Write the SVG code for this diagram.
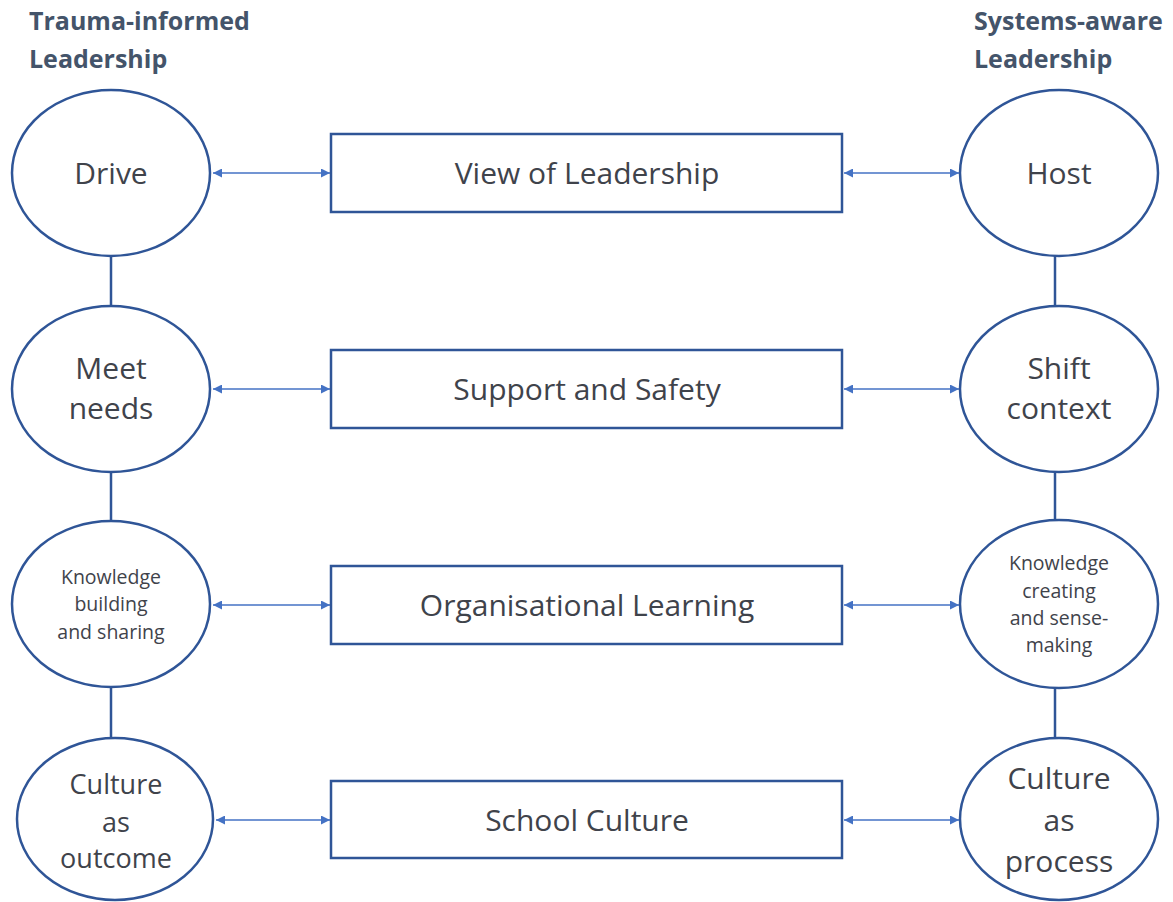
<svg xmlns="http://www.w3.org/2000/svg" width="1173" height="902" viewBox="0 0 1173 902">
<style>
.el{fill:#fff;stroke:#2F5597;stroke-width:2.5}
.bx{fill:#fff;stroke:#2F5597;stroke-width:2.5}
.ln{stroke:#2F5597;stroke-width:2.5;fill:none}
.ar{stroke:#4472C4;stroke-width:1.5;fill:none;marker-start:url(#ah);marker-end:url(#ah)}
.t{font-family:"Open Sans","Liberation Sans",sans-serif;fill:#3F434B;text-anchor:middle}
.h{font-family:"Open Sans","Liberation Sans",sans-serif;font-weight:bold;fill:#44546A;font-size:25px}
</style>
<defs>
<marker id="ah" viewBox="0 0 10 10" refX="10" refY="5" markerWidth="9" markerHeight="9" markerUnits="userSpaceOnUse" orient="auto-start-reverse">
<path d="M0,0 L10,5 L0,10 z" fill="#4472C4"/>
</marker>
</defs>
<rect width="1173" height="902" fill="#fff"/>
<g id="headers">
<text class="h" x="29" y="30">Trauma-informed</text>
<text class="h" x="29" y="68">Leadership</text>
<text class="h" x="974" y="30">Systems-aware</text>
<text class="h" x="974" y="68">Leadership</text>
</g>
<g id="connectors">
<line class="ln" x1="111" y1="256" x2="111" y2="306"/>
<line class="ln" x1="111" y1="472" x2="111" y2="521"/>
<line class="ln" x1="111" y1="688" x2="111" y2="738"/>
<line class="ln" x1="1055" y1="256" x2="1055" y2="305"/>
<line class="ln" x1="1055" y1="472" x2="1055" y2="520"/>
<line class="ln" x1="1055" y1="688" x2="1055" y2="738"/>
<line class="ar" x1="213" y1="173" x2="330" y2="173"/>
<line class="ar" x1="844" y1="173" x2="959" y2="173"/>
<line class="ar" x1="213" y1="389" x2="330" y2="389"/>
<line class="ar" x1="844" y1="389" x2="959" y2="389"/>
<line class="ar" x1="213" y1="605" x2="330" y2="605"/>
<line class="ar" x1="844" y1="605" x2="959" y2="605"/>
<line class="ar" x1="216" y1="820" x2="330" y2="820"/>
<line class="ar" x1="844" y1="820" x2="959" y2="820"/>
</g>
<g id="drive"><ellipse class="el" cx="111" cy="173" rx="99" ry="83"/><text class="t" x="111" y="184" font-size="30">Drive</text></g>
<g id="meet-needs"><ellipse class="el" cx="111" cy="389" rx="99" ry="83"/><text class="t" x="111" y="379" font-size="30">Meet</text><text class="t" x="111" y="419" font-size="30">needs</text></g>
<g id="knowledge-building"><ellipse class="el" cx="111" cy="604" rx="99" ry="83"/><text class="t" x="111" y="584" font-size="19.5">Knowledge</text><text class="t" x="111" y="611" font-size="19.5">building</text><text class="t" x="111" y="639" font-size="19.5">and sharing</text></g>
<g id="culture-outcome"><ellipse class="el" cx="115" cy="819" rx="98" ry="81"/><text class="t" x="116" y="794" font-size="27">Culture</text><text class="t" x="116" y="832" font-size="27">as</text><text class="t" x="116" y="868" font-size="27">outcome</text></g>
<g id="host"><ellipse class="el" cx="1059" cy="173" rx="99" ry="83"/><text class="t" x="1059" y="184" font-size="30">Host</text></g>
<g id="shift-context"><ellipse class="el" cx="1059" cy="389" rx="99" ry="83"/><text class="t" x="1059" y="379" font-size="30">Shift</text><text class="t" x="1059" y="419" font-size="30">context</text></g>
<g id="knowledge-creating"><ellipse class="el" cx="1059" cy="604" rx="99" ry="84"/><text class="t" x="1059" y="570" font-size="19.5">Knowledge</text><text class="t" x="1059" y="598" font-size="19.5">creating</text><text class="t" x="1059" y="625" font-size="19.5">and sense-</text><text class="t" x="1059" y="652" font-size="19.5">making</text></g>
<g id="culture-process"><ellipse class="el" cx="1059" cy="819" rx="99" ry="81"/><text class="t" x="1059" y="789" font-size="30">Culture</text><text class="t" x="1059" y="831" font-size="30">as</text><text class="t" x="1059" y="872" font-size="30">process</text></g>
<g id="view-of-leadership"><rect class="bx" x="331" y="134" width="511" height="78"/><text class="t" x="587" y="184" font-size="30">View of Leadership</text></g>
<g id="support-and-safety"><rect class="bx" x="331" y="350" width="511" height="78"/><text class="t" x="587" y="400" font-size="30">Support and Safety</text></g>
<g id="organisational-learning"><rect class="bx" x="331" y="566" width="511" height="78"/><text class="t" x="587" y="616" font-size="30">Organisational Learning</text></g>
<g id="school-culture"><rect class="bx" x="331" y="781" width="511" height="77"/><text class="t" x="587" y="831" font-size="30">School Culture</text></g>
</svg>
